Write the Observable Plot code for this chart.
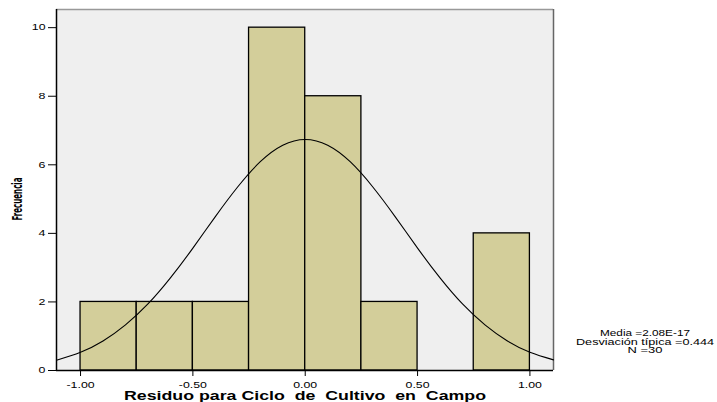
<!DOCTYPE html>
<html>
<head>
<meta charset="utf-8">
<script src="https://cdn.jsdelivr.net/npm/d3@7"></script>
<script src="https://cdn.jsdelivr.net/npm/@observablehq/plot@0.6"></script>
<style>
  html, body { margin: 0; padding: 0; background: #fff; }
  #chart { position: relative; width: 717px; height: 402px; }
</style>
</head>
<body>
<div id="chart"></div>
<script>
// Histogram bins (edges) and counts
const binEdges = [-1.00, -0.75, -0.50, -0.25, 0.00, 0.25, 0.50, 0.75, 1.00];
const counts = [2, 2, 2, 10, 8, 2, 0, 4];

// Normal curve points
const curveX = [-1.107, -1.0, -0.9, -0.8, -0.7, -0.6, -0.5, -0.4, -0.3, -0.2, -0.1, 0.0, 0.1, 0.2, 0.3, 0.4, 0.5, 0.6, 0.7, 0.8, 0.9, 1.0, 1.105];
const curveY = [0.30, 0.53, 0.86, 1.33, 1.94, 2.70, 3.57, 4.49, 5.36, 6.09, 6.57, 6.74, 6.57, 6.09, 5.36, 4.49, 3.57, 2.70, 1.94, 1.33, 0.86, 0.53, 0.31];

// Axis ticks
const xTicks = [-1.0, -0.5, 0.0, 0.5, 1.0];
const yTicks = [0, 2, 4, 6, 8, 10];

// Texts
const xTitle = "Residuo para Ciclo\u00a0 de\u00a0 Cultivo\u00a0 en\u00a0 Campo";
const yTitle = "Frecuencia";
const statLines = ["Media =2.08E-17", "Desviación típica =0.444", "N =30"];

const xDomain = [-1.107, 1.105];
const yDomain = [0, 10.53];

const bars = counts.map((c, i) => ({x1: binEdges[i], x2: binEdges[i + 1], y: c})).filter(d => d.y > 0);
const curve = curveX.map((x, i) => ({x, y: curveY[i]}));

const FONT = "'Liberation Sans', Arial, sans-serif";

const plot = Plot.plot({
  width: 717,
  height: 402,
  marginLeft: 56,
  marginRight: 164,
  marginTop: 9,
  marginBottom: 32,
  style: {fontFamily: FONT, fontSize: "8.5px", color: "#000", background: "#fff"},
  x: {domain: xDomain, label: null},
  y: {domain: yDomain, label: null},
  marks: [
    Plot.frame({fill: "#efefef", stroke: null}),
    Plot.ruleY([yDomain[1]], {stroke: "#999", strokeWidth: 1.5}),
    Plot.ruleX([xDomain[1]], {stroke: "#666", strokeWidth: 1.5}),
    Plot.rectY(bars, {x1: "x1", x2: "x2", y: "y", fill: "#d3ce9a", stroke: "#000", strokeWidth: 1.3}),
    Plot.line(curve, {x: "x", y: "y", curve: "natural", stroke: "#000", strokeWidth: 1.1}),
    Plot.ruleX([xDomain[0]], {stroke: "#000", strokeWidth: 1.5}),
    Plot.ruleY([0], {stroke: "#000", strokeWidth: 1.5}),
    Plot.axisX({ticks: xTicks, tickFormat: d => d.toFixed(2), tickSize: 6, tickPadding: 5, label: null}),
    Plot.axisY({ticks: yTicks, tickFormat: d => String(d), tickSize: 8, tickPadding: 3, label: null})
  ]
});
document.getElementById("chart").appendChild(plot);

const svg = d3.select(plot);

// Stretch tick labels horizontally like the reference rendering
svg.selectAll("g[aria-label='x-axis tick label'] text, g[aria-label='y-axis tick label'] text").each(function () {
  const len = this.getComputedTextLength();
  if (len > 0) {
    this.setAttribute("textLength", (len * 1.45).toFixed(1));
    this.setAttribute("lengthAdjust", "spacingAndGlyphs");
  }
});

svg.append("text")
  .attr("x", 305).attr("y", 400)
  .attr("text-anchor", "middle")
  .attr("textLength", 362)
  .attr("lengthAdjust", "spacingAndGlyphs")
  .style("font-family", FONT)
  .style("font-weight", "bold")
  .style("font-size", "12.5px")
  .text(xTitle);

svg.append("text")
  .attr("transform", "translate(22,199) rotate(-90)")
  .attr("text-anchor", "middle")
  .attr("textLength", 43)
  .attr("lengthAdjust", "spacingAndGlyphs")
  .style("font-family", "'Liberation Sans Narrow', 'DejaVu Sans Condensed', Arial, sans-serif")
  .style("font-weight", "bold")
  .style("font-size", "13.5px")
  .text(yTitle);

const statWidths = [90, 138, 35];
statLines.forEach((s, i) => {
  svg.append("text")
    .attr("x", 645).attr("y", 336 + i * 8.5)
    .attr("text-anchor", "middle")
    .attr("textLength", statWidths[i])
    .attr("lengthAdjust", "spacingAndGlyphs")
    .style("font-family", FONT)
    .style("font-size", "9.3px")
    .text(s);
});
</script>
</body>
</html>
